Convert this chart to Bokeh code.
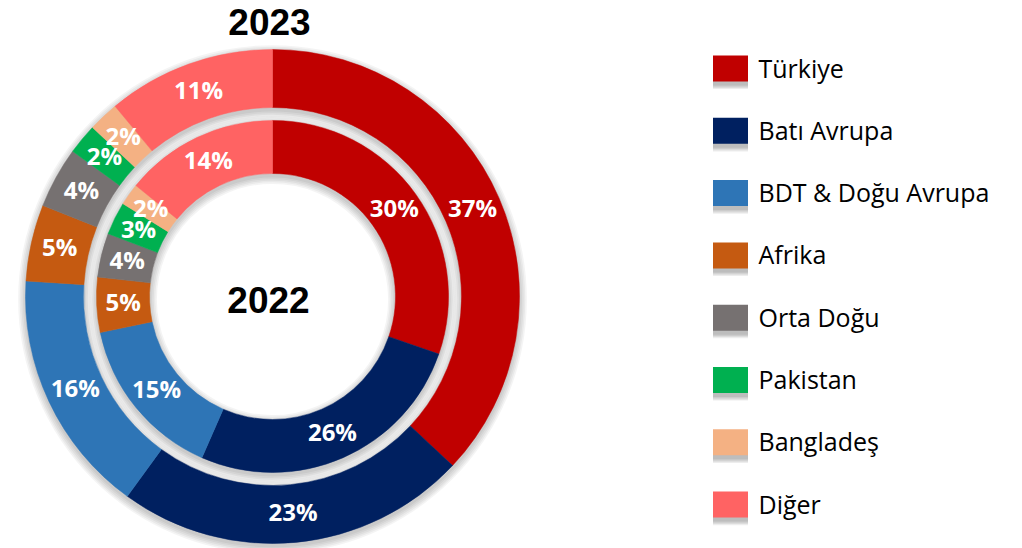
import math
from bokeh.plotting import figure
from bokeh.models import Range1d, ColumnDataSource
from bokeh.core.properties import value
from bokeh.embed import file_html
from bokeh.resources import INLINE

# ---- data ----
categories = ["Türkiye", "Batı Avrupa", "BDT & Doğu Avrupa", "Afrika",
              "Orta Doğu", "Pakistan", "Bangladeş", "Diğer"]
values_2023 = [37, 23, 16, 5, 4, 2, 2, 11]
values_2022 = [30, 26, 15, 5, 4, 3, 2, 14]
colors = ["#C00000", "#002060", "#2E75B6", "#C55A11",
          "#767171", "#00B050", "#F4B183", "#FF6363"]
outer_title = "2023"
inner_title = "2022"

W, H = 1022, 548
p = figure(width=W, height=H, output_backend="svg", toolbar_location=None,
           x_range=Range1d(0, W), y_range=Range1d(0, H), min_border=0)
p.axis.visible = False
p.grid.visible = False
p.outline_line_color = None
p.background_fill_color = "white"
p.border_fill_color = "white"

def sy(y):  # screen y -> data y
    return H - y

def sx(x):
    return x

cx, cy = sx(272), sy(296)
rings = [  # (values, inner radius, outer radius)
    (values_2023, 189, 247),
    (values_2022, 123, 176),
]
FONT = value("Open Sans")
TFONT = value("Liberation Sans")

# soft shadows under the rings
for vals, r0, r1 in rings:
    for k in range(5):
        p.annulus(x=cx, y=cy - 3, inner_radius=r0 - 1 - k * 1.6,
                  outer_radius=r1 + 1 + k * 1.6,
                  fill_color="black", fill_alpha=0.045, line_color=None)

for vals, r0, r1 in rings:
    total = float(sum(vals))
    starts, ends, lx, ly, labels = [], [], [], [], []
    cum = 0.0
    rm = (r0 + r1) / 2
    for v in vals:
        a0 = math.pi / 2 - 2 * math.pi * cum / total
        a1 = math.pi / 2 - 2 * math.pi * (cum + v) / total
        starts.append(a0)
        ends.append(a1)
        am = (a0 + a1) / 2
        lx.append(cx + rm * math.cos(am))
        ly.append(cy + rm * math.sin(am) + 2)
        labels.append(f"{v}%")
        cum += v
    src = ColumnDataSource(dict(start=starts, end=ends, color=colors,
                                lx=lx, ly=ly, label=labels))
    p.annular_wedge(x=cx, y=cy, inner_radius=r0, outer_radius=r1,
                    start_angle="start", end_angle="end", direction="clock",
                    fill_color="color", line_color="color", line_width=0.5,
                    source=src)
    p.text(x="lx", y="ly", text="label", source=src, text_color="white",
           text_font=FONT, text_font_style="bold", text_font_size="24px",
           text_align="center", text_baseline="middle")

# titles
p.text(x=[sx(269)], y=[sy(21.5)], text=[outer_title], text_font=TFONT,
       text_font_style="bold", text_font_size="37px", text_color="black",
       text_align="center", text_baseline="alphabetic")
p.text(x=[sx(268)], y=[sy(299)], text=[inner_title], text_font=TFONT,
       text_font_style="bold", text_font_size="37px", text_color="black",
       text_align="center", text_baseline="alphabetic")

# legend
lgx = [sx(730)] * len(categories)
lgy = [sy(68 + i * 62.3) for i in range(len(categories))]
for k in range(4):
    p.rect(x=lgx, y=[y - 4 - k * 1.2 for y in lgy], width=35, height=26,
           fill_color="black", fill_alpha=0.07, line_color=None)
p.rect(x=lgx, y=lgy, width=35, height=26, fill_color=colors, line_color=None)
p.text(x=[sx(758)] * len(categories), y=[y + 1 for y in lgy], text=categories,
       text_font=FONT, text_font_size="25px", text_color="black",
       text_align="left", text_baseline="middle")

open("out.html", "w").write(file_html(p, INLINE))
